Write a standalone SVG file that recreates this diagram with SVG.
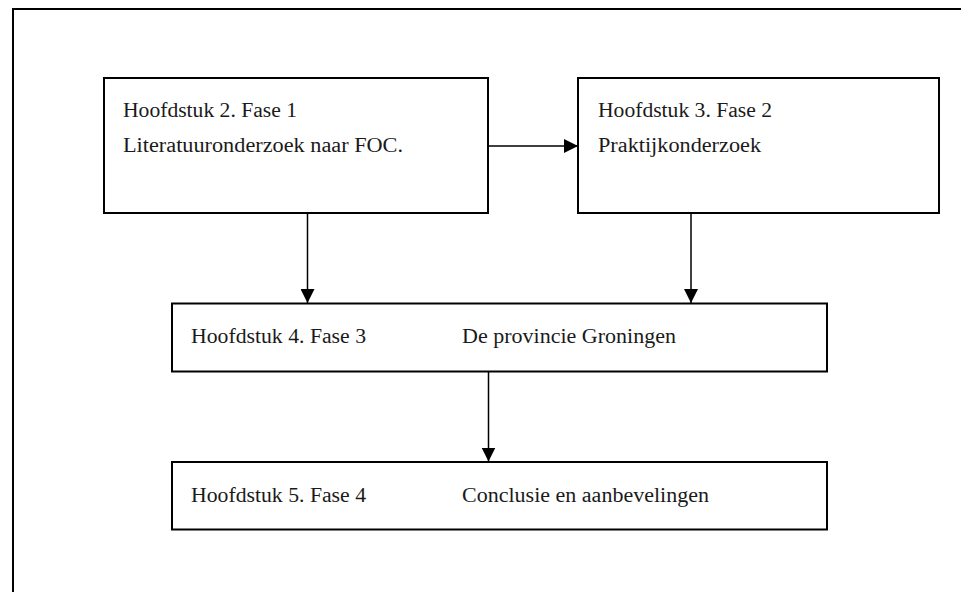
<svg xmlns="http://www.w3.org/2000/svg" width="961" height="592" viewBox="0 0 961 592">
  <style>
    .box { fill: #ffffff; stroke: #000000; stroke-width: 2; }
    .frame { fill: none; stroke: #000000; stroke-width: 2; }
    .conn { fill: none; stroke: #000000; stroke-width: 1.5; marker-end: url(#arrow); }
    .lbl { font-family: "Liberation Serif", "Times New Roman", serif; font-size: 20px; fill: #1a1a1a; }
  </style>
  <defs>
    <marker id="arrow" viewBox="0 0 14 14" refX="14" refY="7" markerWidth="14" markerHeight="14" markerUnits="userSpaceOnUse" orient="auto">
      <path d="M0,0 L14,7 L0,14 Z" fill="#000000"/>
    </marker>
  </defs>
  <rect width="961" height="592" fill="#ffffff"/>
  <rect class="frame" x="13" y="9" width="970" height="600"/>

  <g id="connectors">
    <line class="conn" x1="489" y1="146" x2="578" y2="146"/>
    <line class="conn" x1="307.5" y1="213" x2="307.5" y2="303"/>
    <line class="conn" x1="691" y1="213" x2="691" y2="303"/>
    <line class="conn" x1="488.5" y1="372" x2="488.5" y2="461.5"/>
  </g>

  <g id="node-fase1">
    <rect class="box" x="104" y="78" width="384" height="135"/>
    <text class="lbl" x="123" y="117" textLength="174" lengthAdjust="spacingAndGlyphs">Hoofdstuk 2. Fase 1</text>
    <text class="lbl" x="123" y="152" textLength="280" lengthAdjust="spacingAndGlyphs">Literatuuronderzoek naar FOC.</text>
  </g>

  <g id="node-fase2">
    <rect class="box" x="578" y="78" width="361" height="135"/>
    <text class="lbl" x="598" y="117" textLength="174" lengthAdjust="spacingAndGlyphs">Hoofdstuk 3. Fase 2</text>
    <text class="lbl" x="598" y="152" textLength="163" lengthAdjust="spacingAndGlyphs">Praktijkonderzoek</text>
  </g>

  <g id="node-fase3">
    <rect class="box" x="172" y="303.5" width="655" height="68"/>
    <text class="lbl" x="191" y="343" textLength="175" lengthAdjust="spacingAndGlyphs">Hoofdstuk 4. Fase 3</text>
    <text class="lbl" x="462" y="343" textLength="214" lengthAdjust="spacingAndGlyphs">De provincie Groningen</text>
  </g>

  <g id="node-fase4">
    <rect class="box" x="172" y="462" width="655" height="67.5"/>
    <text class="lbl" x="191" y="501.5" textLength="175" lengthAdjust="spacingAndGlyphs">Hoofdstuk 5. Fase 4</text>
    <text class="lbl" x="462" y="501.5" textLength="247" lengthAdjust="spacingAndGlyphs">Conclusie en aanbevelingen</text>
  </g>
</svg>
